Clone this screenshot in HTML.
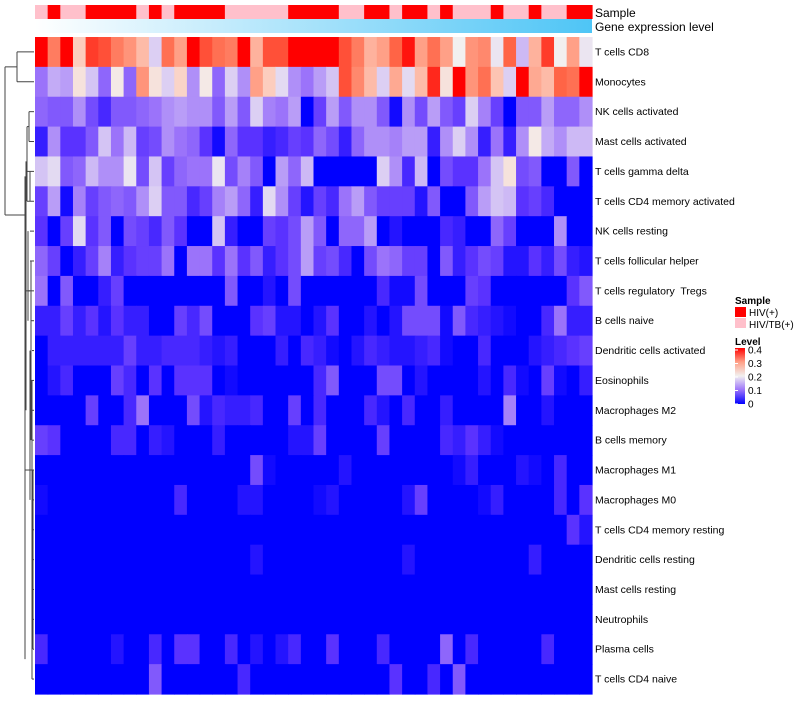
<!DOCTYPE html>
<html><head><meta charset="utf-8"><style>
body{margin:0;background:#fff;font-family:"Liberation Sans",sans-serif}
svg text{font-family:"Liberation Sans",sans-serif;white-space:pre}
</style></head><body>
<svg id="chart" width="800" height="700" viewBox="0 0 800 700" xmlns="http://www.w3.org/2000/svg">
<defs>
<linearGradient id="geneGrad" x1="0" x2="1" y1="0" y2="0"><stop offset="0" stop-color="#ffffff"/><stop offset="1" stop-color="#4ec5f6"/></linearGradient>
<linearGradient id="levelGrad" x1="0" x2="0" y1="1" y2="0"><stop offset="0" stop-color="#0000ff"/><stop offset="0.25" stop-color="#9b73fa"/><stop offset="0.5" stop-color="#f2f0f0"/><stop offset="0.75" stop-color="#ffa087"/><stop offset="1" stop-color="#ff0000"/></linearGradient>
</defs>
<g id="annot"></g>
<g id="cells"></g>
<g id="rowlabels"></g>
<g id="dendro" stroke="#444" stroke-width="1" fill="none"></g>
<rect x="35" y="19" width="557" height="14" fill="url(#geneGrad)"/>
<text x="595" y="17" font-size="12">Sample</text>
<text x="595" y="31" font-size="12">Gene expression level</text>
<g font-size="10">
<text x="735" y="304" font-weight="bold">Sample</text>
<rect x="735" y="307" width="11" height="10" fill="#ff0000"/>
<text x="749" y="316">HIV(+)</text>
<rect x="735" y="318" width="11" height="10" fill="#ffc0cb"/>
<text x="749" y="328">HIV/TB(+)</text>
<text x="735" y="345" font-weight="bold">Level</text>
<rect x="735" y="348" width="10" height="56" fill="url(#levelGrad)"/>
<g id="levelticks"></g>
</g>
</svg>
<script>
const rowNames=["T cells CD8","Monocytes","NK cells activated","Mast cells activated","T cells gamma delta","T cells CD4 memory activated","NK cells resting","T cells follicular helper","T cells regulatory  Tregs","B cells naive","Dendritic cells activated","Eosinophils","Macrophages M2","B cells memory","Macrophages M1","Macrophages M0","T cells CD4 memory resting","Dendritic cells resting","Mast cells resting","Neutrophils","Plasma cells","T cells CD4 naive"];
const sampleGroups="PRPPRRRRPRPRRRRPPPPPRRRRPPRRPRRPRPPPRPPRPPRR".split("");
const levelTicks=[0,0.1,0.2,0.3,0.4];
const r0=[0.4,0.33,0.4,0.25,0.37,0.36,0.33,0.31,0.27,0.17,0.34,0.3,0.4,0.36,0.34,0.33,0.4,0.28,0.36,0.36,0.4,0.4,0.4,0.4,0.36,0.33,0.28,0.3,0.35,0.39,0.3,0.34,0.3,0.2,0.31,0.32,0.19,0.35,0.15,0.28,0.37,0.2,0.3,0.19];
const r1=[0.1,0.14,0.13,0.22,0.16,0.09,0.21,0.09,0.31,0.22,0.17,0.24,0.12,0.21,0.09,0.17,0.12,0.3,0.25,0.18,0.12,0.1,0.13,0.16,0.36,0.32,0.27,0.17,0.29,0.18,0.27,0.38,0.22,0.4,0.31,0.34,0.26,0.17,0.4,0.29,0.27,0.35,0.34,0.4];
const r2=[0.09,0.08,0.08,0.12,0.07,0.04,0.08,0.08,0.09,0.1,0.12,0.13,0.12,0.12,0.08,0.13,0.08,0.17,0.11,0.1,0.13,0,0.06,0.13,0.08,0.12,0.12,0.08,0.01,0.12,0.07,0.13,0.08,0.06,0.17,0.11,0.06,0,0.08,0.08,0.13,0.09,0.09,0.12];
const r3=[0.03,0.12,0.05,0.05,0.08,0.16,0.1,0.15,0.06,0.07,0.12,0.1,0.09,0.05,0.01,0.09,0.05,0.05,0.03,0.04,0.06,0.05,0.09,0.07,0.03,0.09,0.12,0.12,0.11,0.13,0.13,0.03,0.12,0.17,0.12,0.03,0.1,0.03,0.12,0.21,0.14,0.12,0.15,0.15];
const r4=[0.16,0.18,0.08,0.09,0.15,0.12,0.12,0.19,0.07,0.16,0.06,0.09,0.1,0.1,0.19,0.07,0.11,0.08,0,0.13,0.09,0.15,0,0,0,0,0,0.17,0.12,0.04,0.15,0,0.07,0.05,0.05,0.1,0.16,0.22,0.07,0.08,0,0,0.08,0];
const r5=[0.06,0.13,0.01,0.11,0.06,0.08,0.09,0.08,0.12,0.17,0.08,0.08,0.04,0.06,0.11,0.13,0.09,0.03,0.18,0.12,0.06,0.02,0.06,0.04,0.1,0.13,0.08,0.06,0.06,0.06,0.02,0.08,0,0,0.08,0.13,0.16,0.15,0.05,0.06,0.04,0,0,0];
const r6=[0.05,0,0.06,0.18,0.05,0.08,0,0.07,0.06,0.04,0.08,0.05,0,0,0.16,0.03,0,0,0.06,0.05,0.07,0.13,0.08,0,0.09,0.09,0.13,0,0.02,0,0,0,0.04,0.03,0,0,0.09,0.06,0,0,0,0.12,0,0];
const r7=[0.09,0.06,0,0.03,0.06,0.11,0.03,0.05,0.06,0.06,0.1,0,0.1,0.1,0.05,0.1,0.05,0.08,0.03,0.05,0.07,0.13,0.06,0.07,0.04,0,0.07,0.1,0.09,0.06,0.06,0,0.08,0.03,0.05,0.07,0.06,0.02,0.02,0.05,0.03,0.07,0.03,0.02];
const r8=[0.1,0,0.08,0,0,0.03,0.06,0,0,0,0,0,0,0,0,0.08,0,0,0.02,0,0.07,0,0,0,0,0,0,0.04,0.01,0.01,0.07,0,0,0,0.06,0.05,0,0,0,0,0,0,0.05,0.08];
const r9=[0.03,0.03,0.06,0.03,0.05,0.02,0.05,0.03,0.03,0,0,0.06,0.04,0.07,0,0,0,0.05,0.06,0.02,0.02,0,0.02,0.05,0,0,0.02,0,0.02,0.07,0.07,0.07,0.01,0.08,0.04,0.03,0.02,0.01,0,0,0.04,0.1,0.03,0.03];
const r10=[0,0.03,0.03,0.03,0.03,0.03,0.03,0.06,0.03,0.03,0.04,0.04,0.04,0.03,0.02,0.03,0,0,0,0.03,0,0.04,0.03,0.01,0,0.02,0.04,0.03,0.02,0.02,0.03,0.04,0.01,0,0,0.04,0,0,0,0.02,0.03,0.04,0.05,0.06];
const r11=[0,0.02,0.04,0,0,0,0.06,0.04,0,0.05,0,0.05,0.05,0.05,0,0.01,0,0,0,0,0,0,0.04,0.08,0,0,0,0.07,0.07,0,0.02,0,0,0,0,0.02,0,0.04,0.01,0,0.06,0.01,0,0.03];
const r12=[0,0,0,0,0.06,0,0,0.04,0.1,0,0,0,0.07,0.02,0.04,0.03,0.03,0.04,0,0,0.06,0,0.04,0,0,0,0.04,0.02,0,0.04,0,0,0.03,0,0,0,0,0.11,0,0,0.02,0,0,0];
const r13=[0.06,0.05,0,0,0,0,0.04,0.04,0,0.03,0.02,0,0,0,0.03,0,0,0,0,0,0.02,0.02,0.06,0,0,0,0,0.06,0,0,0,0,0.04,0.03,0.05,0.03,0.01,0,0,0,0,0,0,0];
const r14=[0,0,0,0,0,0,0,0,0,0,0,0,0,0,0,0,0,0.07,0.01,0,0,0,0,0,0.02,0,0,0,0,0,0,0,0,0.01,0.03,0,0,0,0.02,0.01,0,0.04,0,0];
const r15=[0.01,0,0,0,0,0,0,0,0,0,0,0.04,0,0,0,0,0.02,0.02,0,0,0,0,0.01,0.02,0,0,0,0,0,0.02,0.06,0,0,0,0,0.01,0.03,0,0,0,0,0.04,0,0.05];
const r16=[0,0,0,0,0,0,0,0,0,0,0,0,0,0,0,0,0,0,0,0,0,0,0,0,0,0,0,0,0,0,0,0,0,0,0,0,0,0,0,0,0,0,0.05,0.02];
const r17=[0,0,0,0,0,0,0,0,0,0,0,0,0,0,0,0,0,0.02,0,0,0,0,0,0,0,0,0,0,0,0.02,0,0,0,0,0,0,0,0,0,0.03,0,0,0,0];
const r18=[0,0,0,0,0,0,0,0,0,0,0,0,0,0,0,0,0,0,0,0,0,0,0,0,0,0,0,0,0,0,0,0,0,0,0,0,0,0,0,0,0,0,0,0];
const r19=[0,0,0,0,0,0,0,0,0,0,0,0,0,0,0,0,0,0,0,0,0,0,0,0,0,0,0,0,0,0,0,0,0,0,0,0,0,0,0,0,0,0,0,0];
const r20=[0.04,0,0,0,0,0,0.02,0,0,0.04,0,0.05,0.05,0,0,0.04,0,0.02,0,0.02,0.04,0,0,0.05,0,0,0,0.04,0,0,0,0,0.09,0,0.04,0,0,0,0,0,0.04,0,0,0];
const r21=[0,0,0,0,0,0,0,0,0,0.08,0,0,0,0,0,0,0.04,0,0,0,0,0,0,0,0,0,0,0,0.05,0,0,0.04,0,0.08,0,0,0,0,0,0,0,0,0,0];
const values=[r0,r1,r2,r3,r4,r5,r6,r7,r8,r9,r10,r11,r12,r13,r14,r15,r16,r17,r18,r19,r20,r21];

const NS="http://www.w3.org/2000/svg";
const X0=35,X1=592,Y0=37,Y1=694;
const nCol=sampleGroups.length,nRow=rowNames.length;
const cw=(X1-X0)/nCol,rh=(Y1-Y0)/nRow;
function xPos(c){return X0+c*cw;}
function yPos(r){return Y0+r*rh;}
const anchors=[[0,[0,0,255]],[0.05,[90,50,255]],[0.1,[155,115,250]],[0.15,[205,185,245]],[0.2,[242,240,240]],[0.25,[252,205,190]],[0.3,[255,160,135]],[0.35,[255,100,70]],[0.4,[255,0,0]]];
function color(v){
  v=Math.max(0,Math.min(0.4,v));
  for(let i=0;i<anchors.length-1;i++){
    const [a,ca]=anchors[i],[b,cb]=anchors[i+1];
    if(v<=b){const t=(v-a)/(b-a);return "rgb("+ca.map((x,k)=>Math.round(x+(cb[k]-x)*t)).join(",")+")";}
  }
  return "rgb(255,0,0)";
}
function mk(tag,attrs,parent){const e=document.createElementNS(NS,tag);for(const k in attrs)e.setAttribute(k,attrs[k]);parent.appendChild(e);return e;}

const annot=document.getElementById("annot");
sampleGroups.forEach((g,c)=>{
  const e=mk("rect",{x:xPos(c),y:5,width:cw+0.6,height:14,fill:g==="R"?"#ff0000":"#ffc0cb"},annot);
  
  
});
const cells=document.getElementById("cells");
values.forEach((row,r)=>row.forEach((v,c)=>{
  const e=mk("rect",{x:xPos(c),y:yPos(r),width:cw+0.6,height:rh+0.6,fill:color(v)},cells);
  
  
}));
const labels=document.getElementById("rowlabels");
rowNames.forEach((n,r)=>{
  const e=mk("text",{x:595,y:yPos(r)+rh/2+3.5,"font-size":"10.5"},labels);
  e.textContent=n;
  
  
});
const lt=document.getElementById("levelticks");
levelTicks.forEach(t=>{
  const y=404-t/0.4*54;
  const l=mk("line",{x1:735,x2:738,y1:y,y2:y,stroke:"#fff"},lt);
  
  
  const e=mk("text",{x:748,y:y+3.5,"font-size":"10"},lt);
  e.textContent=String(t);
  
  
});
const d=document.getElementById("dendro");
function seg(x1,y1,x2,y2){const e=mk("line",{x1,y1,x2,y2},d);}
function cy(r){return yPos(r)+rh/2;}
seg(17,cy(0),34,cy(0));seg(17,cy(1),34,cy(1));seg(17,cy(0),17,cy(1));
const topMid=(cy(0)+cy(1))/2;
seg(5,topMid,17,topMid);
const restMid=215;
seg(5,topMid,5,restMid);seg(5,restMid,25,restMid);
seg(25,cy(4)+5,25,cy(21)-20);
const leafX=[29,29,27,27,30,30,28,31,32,30,31,32,31,33,33,33,33,33,33,32];
for(let r=2;r<22;r++){seg(leafX[r-2],cy(r),34,cy(r));}
seg(29,cy(2),29,cy(3));seg(27,(cy(2)+cy(3))/2,29,(cy(2)+cy(3))/2);
seg(27,(cy(2)+cy(3))/2,27,cy(5));seg(30,cy(4),30,cy(5));
seg(26,cy(4)-10,26,cy(12));seg(28,cy(6),28,cy(9));seg(31,cy(7),31,cy(13));
seg(30,cy(10),30,cy(15));seg(32,cy(11),32,cy(21));seg(33,cy(14),33,cy(20));
seg(25,cy(8),30,cy(8));seg(25,cy(14),32,cy(14));
</script>
</body></html>
